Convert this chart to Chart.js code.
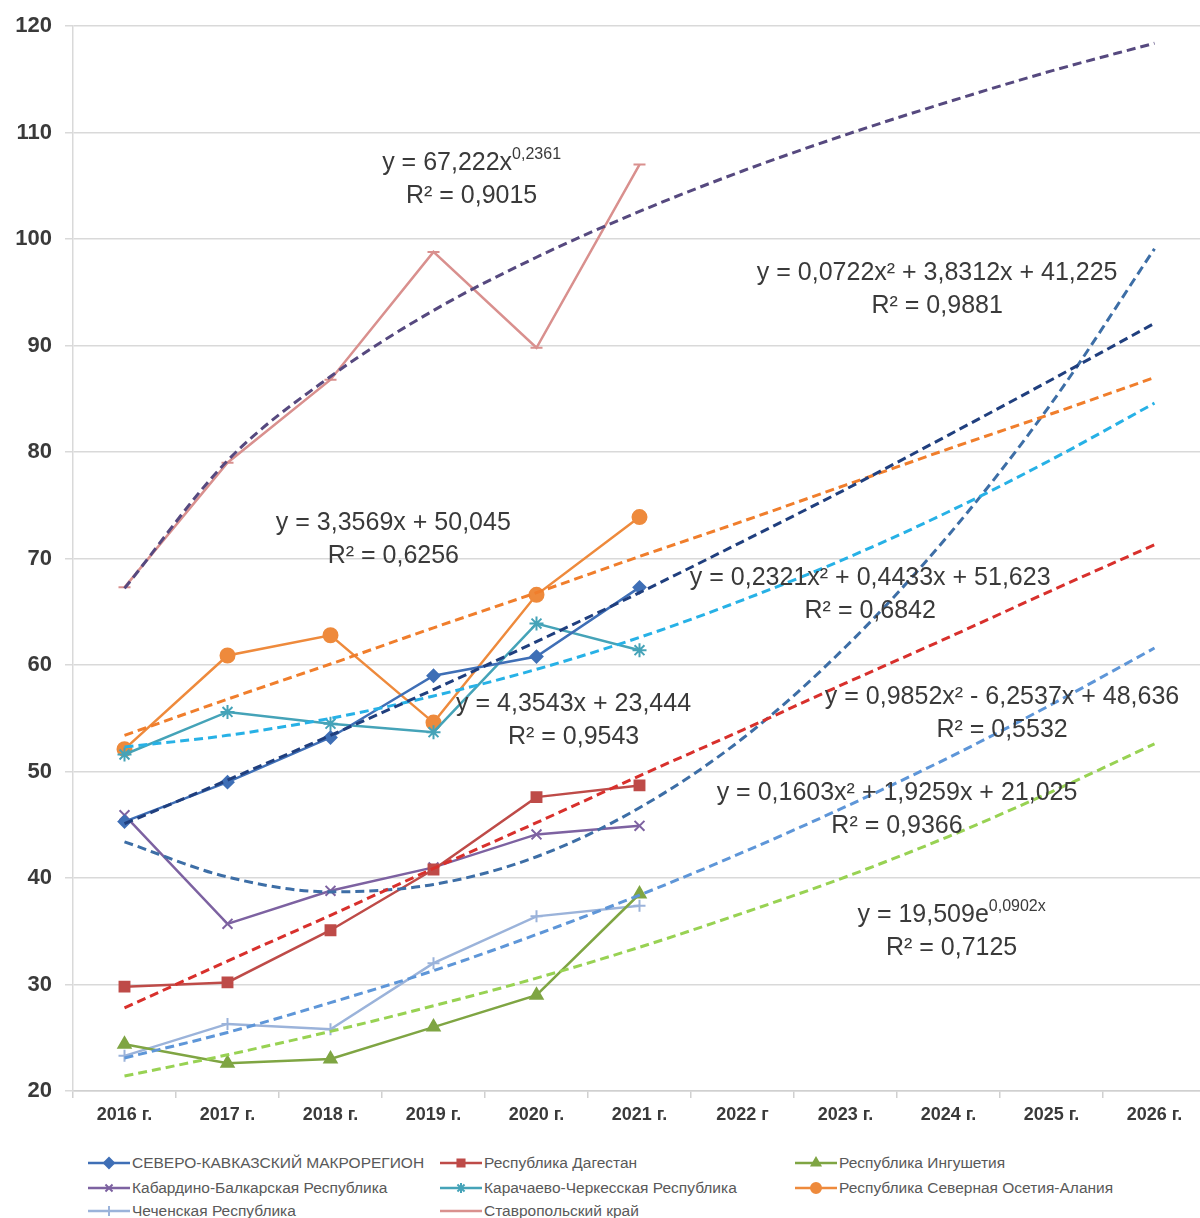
<!DOCTYPE html>
<html lang="ru">
<head>
<meta charset="utf-8">
<title>Северо-Кавказский макрорегион</title>
<script src="https://cdn.jsdelivr.net/npm/chart.js@4.4.1/dist/chart.umd.min.js"></script>
<style>
  html, body { margin: 0; padding: 0; background: #fff; overflow: hidden; }
  #wrap { position: relative; width: 1200px; height: 1218px; overflow: hidden; }
  #chart { position: absolute; left: 0; top: 0; }
  .item {
    position: absolute; display: flex; align-items: center; white-space: nowrap;
    font-family: "Liberation Sans Narrow", "Liberation Sans", sans-serif;
    font-size: 15.5px; color: #595959;
  }
  .item canvas { margin-right: 2px; }
</style>
</head>
<body>
<div id="wrap">
  <canvas id="chart" width="1215" height="1140"></canvas>
  <div id="legend"></div>
</div>
<script>
// categories
const years = ['2016 г.', '2017 г.', '2018 г.', '2019 г.', '2020 г.', '2021 г.', '2022 г', '2023 г.', '2024 г.', '2025 г.', '2026 г.'];

// actual values 2016-2021
const nkMacro    = [45.3, 49.0, 53.2, 59.0, 60.8, 67.3, null, null, null, null, null];
const dagestan   = [29.8, 30.2, 35.1, 40.8, 47.6, 48.7, null, null, null, null, null];
const ingush     = [24.4, 22.6, 23.0, 26.0, 29.0, 38.5, null, null, null, null, null];
const kabBalk    = [45.9, 35.7, 38.8, 41.0, 44.1, 44.9, null, null, null, null, null];
const karCherk   = [51.6, 55.6, 54.5, 53.7, 63.9, 61.4, null, null, null, null, null];
const nOssetia   = [52.1, 60.9, 62.8, 54.6, 66.6, 73.9, null, null, null, null, null];
const chechnya   = [23.3, 26.3, 25.8, 32.0, 36.4, 37.4, null, null, null, null, null];
const stavropol  = [67.3, 79.0, 86.8, 98.8, 89.8, 107.0, null, null, null, null, null];

// trend lines
const trendStavropol = [67.2, 79.2, 87.1, 93.3, 98.3, 102.6, 106.4, 109.8, 112.9, 115.8, 118.4];
const trendNkMacro   = [45.1, 49.2, 53.4, 57.7, 62.2, 66.8, 71.6, 76.5, 81.6, 86.8, 92.1];
const trendOssetia   = [53.4, 56.8, 60.1, 63.5, 66.8, 70.2, 73.5, 76.9, 80.3, 83.6, 87.0];
const trendKarCherk  = [52.3, 53.4, 55.0, 57.1, 59.6, 62.6, 66.1, 70.0, 74.4, 79.3, 84.6];
const trendDagestan  = [27.8, 32.2, 36.5, 40.9, 45.2, 49.6, 53.9, 58.3, 62.6, 67.0, 71.3];
const trendKabBalk   = [43.4, 40.1, 38.7, 39.4, 42.0, 46.6, 53.1, 61.7, 72.2, 84.6, 99.1];
const trendChechnya  = [23.1, 25.5, 28.3, 31.3, 34.7, 38.4, 42.4, 46.7, 51.3, 56.3, 61.6];
const trendIngush    = [21.4, 23.4, 25.6, 28.0, 30.6, 33.5, 36.7, 40.1, 43.9, 48.1, 52.6];

// equation labels
const eqLabels = [
  { at: [3.37, 107.1], eq: [['y = 67,222x'], ['0,2361', true]], r2: 'R² = 0,9015' },
  { at: [7.89, 96.8],  eq: [['y = 0,0722x² + 3,8312x + 41,225']], r2: 'R² = 0,9881' },
  { at: [2.61, 73.3],  eq: [['y = 3,3569x + 50,045']], r2: 'R² = 0,6256' },
  { at: [7.24, 68.2],  eq: [['y = 0,2321x² + 0,4433x + 51,623']], r2: 'R² = 0,6842' },
  { at: [4.36, 56.3],  eq: [['y = 4,3543x + 23,444']], r2: 'R² = 0,9543' },
  { at: [8.52, 57.0],  eq: [['y = 0,9852x² - 6,2537x + 48,636']], r2: 'R² = 0,5532' },
  { at: [7.50, 48.0],  eq: [['y = 0,1603x² + 1,9259x + 21,025']], r2: 'R² = 0,9366' },
  { at: [8.03, 36.5],  eq: [['y = 19,509e'], ['0,0902x', true]], r2: 'R² = 0,7125' }
];

// series for lines and legend
const series = [
  { label: 'СЕВЕРО-КАВКАЗСКИЙ МАКРОРЕГИОН', data: nkMacro, color: '#3F6FB6', style: 'rectRot', r: 6 },
  { label: 'Республика Дагестан', data: dagestan, color: '#BE4B48', style: 'rect', r: 7 },
  { label: 'Республика Ингушетия', data: ingush, color: '#7FA543', style: 'triangle', r: 7 },
  { label: 'Кабардино-Балкарская Республика', data: kabBalk, color: '#7D62A1', style: 'crossRot', r: 7 },
  { label: 'Карачаево-Черкесская Республика', data: karCherk, color: '#45A3B8', style: 'star', r: 7 },
  { label: 'Республика Северная Осетия-Алания', data: nOssetia, color: '#EE8A3C', style: 'circle', r: 7 },
  { label: 'Чеченская Республика', data: chechnya, color: '#9BB3DA', style: 'cross', r: 6 },
  { label: 'Ставропольский край', data: stavropol, color: '#D9908E', style: 'line', r: 6 }
];

const trends = [
  { data: trendStavropol, color: '#56497F' },
  { data: trendNkMacro, color: '#203F7E' },
  { data: trendOssetia, color: '#F07E2C' },
  { data: trendKarCherk, color: '#27B1E6' },
  { data: trendDagestan, color: '#D8302C' },
  { data: trendKabBalk, color: '#3D6EA6' },
  { data: trendChechnya, color: '#5E96D8' },
  { data: trendIngush, color: '#98D253' }
];

const datasets = [];
series.forEach(s => {
  datasets.push({
    label: s.label,
    data: s.data,
    borderColor: s.color,
    backgroundColor: s.color,
    borderWidth: 2.5,
    pointStyle: s.style,
    pointRadius: s.r,
    pointBorderWidth: 2,
    pointBorderColor: s.color,
    pointBackgroundColor: s.color,
    order: 1
  });
});
trends.forEach(t => {
  datasets.push({
    label: '',
    data: t.data,
    borderColor: t.color,
    borderWidth: 3,
    borderDash: [9, 5],
    pointRadius: 0,
    cubicInterpolationMode: 'monotone',
    order: 0
  });
});

const EQ_FONT = '25px "Liberation Sans", sans-serif';
const SUP_FONT = '16px "Liberation Sans", sans-serif';

// draw equation texts on top of lines
const eqPlugin = {
  id: 'eqLabels',
  afterDatasetsDraw(chart) {
    const ctx = chart.ctx;
    const x = chart.scales.x, y = chart.scales.y;
    ctx.save();
    ctx.fillStyle = '#3a3a3a';
    ctx.textBaseline = 'middle';
    ctx.textAlign = 'left';
    eqLabels.forEach(l => {
      const cx = x.getPixelForValue(l.at[0]);
      const cy = y.getPixelForValue(l.at[1]);
      let w = 0;
      l.eq.forEach(p => { ctx.font = p[1] ? SUP_FONT : EQ_FONT; w += ctx.measureText(p[0]).width; });
      let px = cx - w / 2;
      l.eq.forEach(p => {
        ctx.font = p[1] ? SUP_FONT : EQ_FONT;
        ctx.fillText(p[0], px, p[1] ? cy - 9 : cy);
        px += ctx.measureText(p[0]).width;
      });
      ctx.font = EQ_FONT;
      ctx.textAlign = 'center';
      ctx.fillText(l.r2, cx, cy + 33);
      ctx.textAlign = 'left';
    });
    ctx.restore();
  }
};

new Chart(document.getElementById('chart'), {
  type: 'line',
  data: { labels: years, datasets: datasets },
  options: {
    responsive: false,
    animation: false,
    spanGaps: false,
    layout: { padding: { top: 24, right: 1, left: 0, bottom: 0 } },
    plugins: { legend: { display: false }, tooltip: { enabled: false } },
    scales: {
      x: {
        offset: true,
        grid: { display: true, drawOnChartArea: false, offset: true, tickLength: 7, color: '#d0d0d0', lineWidth: 1.5 },
        border: { color: '#d0d0d0', width: 1.5 },
        ticks: { font: { family: 'Liberation Sans', size: 18, weight: 'bold' }, color: '#3a3a3a', padding: 6, maxRotation: 0, autoSkip: false },
        afterFit(s) { s.height = 49; }
      },
      y: {
        min: 20, max: 120,
        ticks: { stepSize: 10, font: { family: 'Liberation Sans', size: 22, weight: 'bold' }, color: '#3a3a3a', padding: 13 },
        grid: { color: '#d9d9d9', lineWidth: 1.5, tickLength: 8 },
        border: { color: '#d9d9d9', width: 1.5 },
        afterFit(s) { s.width = 73; }
      }
    }
  },
  plugins: [eqPlugin]
});

// legend in three columns below the chart
const legendCols = [88, 440, 795];
const legendRows = [1163, 1188, 1211];
const legendBox = document.getElementById('legend');
series.forEach((s, i) => {
  const item = document.createElement('div');
  item.className = 'item';
  item.style.left = legendCols[i % 3] + 'px';
  item.style.top = (legendRows[Math.floor(i / 3)] - 9) + 'px';
  const sw = document.createElement('canvas');
  sw.width = 42; sw.height = 18;
  const c = sw.getContext('2d');
  c.strokeStyle = s.color; c.fillStyle = s.color; c.lineWidth = 2.5;
  c.beginPath(); c.moveTo(0, 9); c.lineTo(42, 9); c.stroke();
  c.lineWidth = 2;
  Chart.helpers.drawPoint(c, { pointStyle: s.style, radius: s.style === 'line' ? 0 : 5, rotation: 0, borderWidth: 2 }, 21, 9);
  item.appendChild(sw);
  const txt = document.createElement('span');
  txt.textContent = s.label;
  item.appendChild(txt);
  legendBox.appendChild(item);
});
</script>
</body>
</html>
